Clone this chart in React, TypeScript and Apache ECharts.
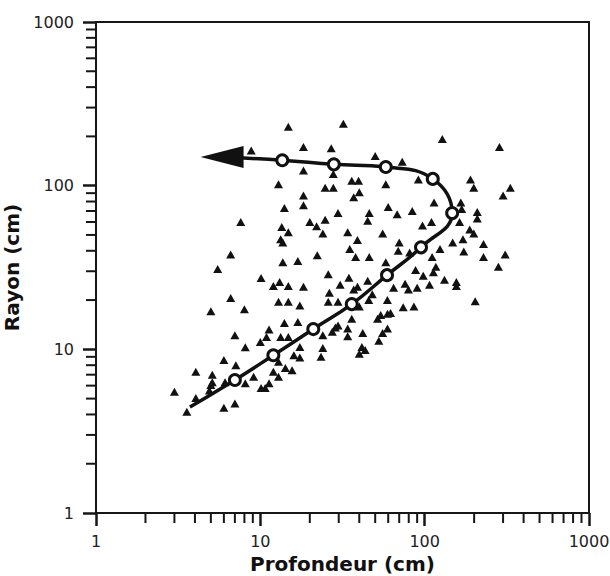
import React, { useEffect, useRef } from "react";
import * as echarts from "echarts";

// Axis tick values (log scale)
const majorTickLabels = [1, 10, 100, 1000];
const minorTickValues = [2, 3, 4, 5, 6, 7, 8, 9, 20, 30, 40, 50, 60, 70, 80, 90, 200, 300, 400, 500, 600, 700, 800, 900];

// Scatter observations: depth (cm) and radius (cm)
const scatterDepth = [
  14.8, 8.8, 12.9, 14, 7.6, 13.5, 14.8, 13.3, 13.7, 6.6, 13.7, 5.5,
  32, 18.3, 27, 50, 73, 18.3, 27.8, 36, 39.6, 24.8, 27.8, 58, 40, 37, 18.3, 18.3, 60, 68, 84, 29.7, 46, 45, 20, 24.8, 22, 24, 34, 55.5, 39, 70, 69, 35, 22.2, 16.9, 46, 38, 58, 81,
  128, 285, 190, 199, 332, 300, 91.5, 114, 166, 209, 209, 168, 97, 110, 163, 188, 199, 171, 148, 228, 124, 173, 309, 228, 111, 117, 281,
  10.1, 12, 13.1, 14.8, 6.6, 12.9, 14.8, 5, 8, 14, 11.3, 7, 10.9, 10, 13.3, 14.8, 8.1, 6, 12.9, 7.1, 14.2, 4.05, 5.1, 12, 9.1, 5.1, 5, 12.9, 8.1, 6.1, 11.3, 10.1, 10.7, 3, 4.9, 4.05, 7, 6, 3.57,
  25.9, 34.6, 45, 30.6, 39, 37, 18.3, 26.3, 64.7, 76, 79.6, 48, 29.7, 25.9, 45.7, 17.4, 59.3, 86, 74, 54, 59.4, 62, 36, 40, 16.9, 51.7, 29.7, 27.4, 28.6, 34, 34, 42, 24, 59.4, 55.5, 52.6, 17.4, 24, 41.5, 43.4, 40, 23.4, 16, 17.4, 15.6,
  88, 98, 113, 90, 107, 132, 156, 156, 203,
];
const scatterRadius = [
  229, 164, 102, 73, 60, 56, 52, 47, 45, 38, 34, 31,
  239, 172, 169, 152, 140, 124, 118, 107, 107, 97, 97, 102, 91, 85, 87, 76, 74, 67, 70, 68, 68, 61, 60, 62, 56.5, 51, 52, 51, 46.5, 45, 40, 41, 37.6, 34.6, 36.6, 36.6, 34, 39,
  193, 172, 109, 97, 97, 87, 109, 79, 79, 69, 63, 72, 57, 60, 60, 54, 51, 47, 45, 44, 41, 39.6, 38, 36.6, 36.6, 32, 32,
  27.3, 24.4, 25.8, 24.4, 20.6, 19.5, 19.5, 17.1, 17.6, 14.5, 13.2, 12.2, 11.9, 11.1, 11.9, 11.9, 10.3, 8.6, 8.4, 8, 7.7, 7.3, 7, 7.3, 6.8, 6.3, 6.05, 6.8, 6.2, 6.3, 6.2, 5.8, 5.8, 5.5, 5.6, 5.05, 4.66, 4.4, 4.15,
  28.8, 27.4, 26.2, 24.8, 24.1, 23.2, 24.1, 22.2, 23.8, 25.2, 23.2, 21.7, 19.5, 19.5, 20, 18.5, 20, 18.3, 18.1, 16.2, 16.5, 16.7, 15.4, 18.3, 14.7, 15.4, 14, 12.8, 13.6, 13.4, 12, 12.6, 12.2, 13.4, 12.6, 11.3, 10.35, 10.2, 10.35, 9.9, 9.4, 9, 9.2, 8.9, 7.45,
  30.5, 28.2, 29.6, 23.8, 24.8, 26.6, 25.8, 24.4, 19.7,
];

// Trend curve (start point, circled nodes, end at arrow)
const curveStart = [3.73, 4.44];
const nodeDepth = [7.0, 12, 21, 36, 59, 95, 147, 112, 58, 28, 13.6];
const nodeRadius = [6.5, 9.2, 13.3, 18.9, 28.4, 42, 68, 110, 130, 135, 143];
const arrowDepth = [5.85];
const arrowRadius = [149.5];

export default function App() {
  const ref = useRef<HTMLDivElement>(null);

  useEffect(() => {
    const chart = echarts.init(ref.current!, null, { renderer: "svg" });
    const font = '"DejaVu Sans", "Liberation Sans", sans-serif';
    const ink = "#161616";

    const scatterData = scatterDepth.map((d, i) => [d, scatterRadius[i]]);
    const nodeData = nodeDepth.map((d, i) => [d, nodeRadius[i]]);
    const lineData = [curveStart, ...nodeData, [arrowDepth[0], arrowRadius[0]]];
    const arrowData = arrowDepth.map((d, i) => [d, arrowRadius[i]]);
    const minorX = minorTickValues.map((v) => [v, majorTickLabels[0]]);
    const minorY = minorTickValues.map((v) => [majorTickLabels[0], v]);

    const axisCommon = {
      type: "log",
      logBase: 10,
      min: majorTickLabels[0],
      max: majorTickLabels[majorTickLabels.length - 1],
      nameLocation: "middle",
      nameTextStyle: { fontFamily: font, fontWeight: "bold", fontSize: 20, color: "#111" },
      axisLine: { show: true, lineStyle: { color: ink, width: 2 } },
      axisTick: { show: true, inside: false, length: 13, lineStyle: { color: ink, width: 2.5 } },
      splitLine: { show: false },
      minorTick: { show: false },
      minorSplitLine: { show: false },
    };

    chart.setOption({
      animation: false,
      backgroundColor: "#ffffff",
      grid: {
        left: 96,
        right: 21,
        top: 22,
        bottom: 63,
        outerBoundsMode: "none",
        containLabel: false,
        show: true,
        borderColor: ink,
        borderWidth: 2,
        backgroundColor: "transparent",
      },
      xAxis: {
        ...axisCommon,
        name: "Profondeur (cm)",
        nameGap: 40,
        axisLabel: {
          margin: 20,
          fontFamily: font,
          fontSize: 16,
          color: "#222",
          formatter: (v: number) => String(Math.round(v)),
        },
      },
      yAxis: {
        ...axisCommon,
        name: "Rayon (cm)",
        nameGap: 54,
        axisLabel: {
          margin: 22,
          fontFamily: font,
          fontSize: 16,
          color: "#222",
          formatter: (v: number) => String(Math.round(v)),
        },
      },
      series: [
        {
          type: "custom",
          coordinateSystem: "cartesian2d",
          silent: true,
          clip: false,
          data: minorX,
          renderItem: (params: any, api: any) => {
            const p = api.coord([api.value(0), api.value(1)]);
            return {
              type: "line",
              shape: { x1: p[0], y1: p[1], x2: p[0], y2: p[1] + 10 },
              style: { stroke: ink, lineWidth: 2 },
            };
          },
        },
        {
          type: "custom",
          coordinateSystem: "cartesian2d",
          silent: true,
          clip: false,
          data: minorY,
          renderItem: (params: any, api: any) => {
            const p = api.coord([api.value(0), api.value(1)]);
            return {
              type: "line",
              shape: { x1: p[0], y1: p[1], x2: p[0] - 10, y2: p[1] },
              style: { stroke: ink, lineWidth: 2 },
            };
          },
        },
        {
          type: "scatter",
          data: scatterData,
          symbol: "triangle",
          symbolSize: [9, 8],
          itemStyle: { color: "#111", opacity: 1 },
          z: 2,
        },
        {
          type: "line",
          data: lineData,
          smooth: 0.45,
          showSymbol: false,
          symbol: "none",
          lineStyle: { color: "#111", width: 3.5, opacity: 1 },
          z: 3,
        },
        {
          type: "scatter",
          data: nodeData,
          symbol: "circle",
          symbolSize: 11,
          itemStyle: { color: "#fff", borderColor: "#111", borderWidth: 3, opacity: 1 },
          z: 4,
        },
        {
          type: "scatter",
          data: arrowData,
          symbol: "triangle",
          symbolSize: [22, 43],
          symbolRotate: 90,
          itemStyle: { color: "#111", opacity: 1 },
          z: 5,
        },
      ],
    });

    return () => chart.dispose();
  }, []);

  return (
    <div
      ref={ref}
      style={{ position: "fixed", left: 0, top: 0, width: 610, height: 576, background: "#fff" }}
    />
  );
}
